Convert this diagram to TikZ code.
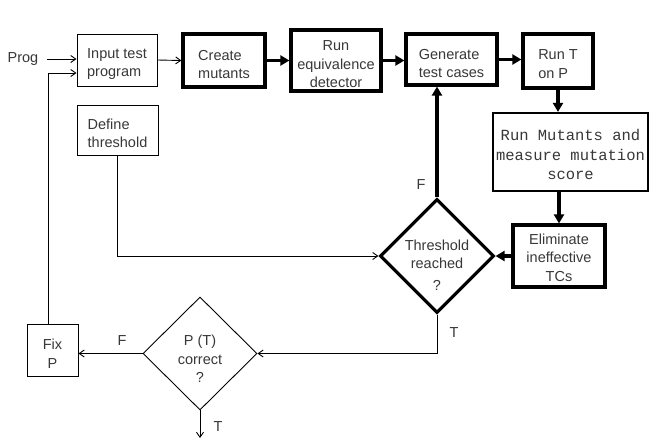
\documentclass[tikz,border=0pt]{standalone}
\usepackage{fontspec}
\setmainfont{Liberation Sans}
\newfontfamily\monofont{Liberation Mono}
\usetikzlibrary{shapes.geometric,arrows.meta}
\definecolor{txt}{HTML}{383838}
\begin{document}
\begin{tikzpicture}[x=1pt,y=-1pt,
  every node/.style={font=\fontsize{14.5}{18.5}\selectfont, text=txt},
  thinbox/.style={draw=black, line width=1pt, rectangle, inner sep=0pt},
  thickbox/.style={draw=black, line width=3.2pt, rectangle, inner sep=0pt},
  medbox/.style={draw=black, line width=2.2pt, rectangle, inner sep=0pt},
  thinarr/.style={draw=black, line width=0.9pt, -{Straight Barb[length=5pt,width=7pt]}},
  thickarr/.style={draw=black, line width=3.8pt, -{Triangle[length=9pt,width=10pt]}},
  lbl/.style={inner sep=0pt},
  btext/.style={inner sep=0pt}
]
\useasboundingbox[fill=white] (0,0) rectangle (671,445);

% boxes
\node[thinbox, minimum width=80pt, minimum height=52pt] (in) at (117,60) {};
\node[thickbox, minimum width=82pt, minimum height=53pt] (create) at (224,60.5) {};
\node[thickbox, minimum width=90pt, minimum height=61pt] (runeq) at (336,60.5) {};
\node[thickbox, minimum width=91pt, minimum height=51pt] (gen) at (451.5,59.5) {};
\node[thickbox, minimum width=70pt, minimum height=54pt] (runT) at (558,61) {};
\node[medbox, minimum width=155pt, minimum height=78pt] (runmut) at (570.5,152) {};
\node[thickbox, minimum width=92pt, minimum height=62pt] (elim) at (559,256) {};
\node[thinbox, minimum width=81pt, minimum height=50pt] (def) at (117.5,130) {};
\node[thinbox, minimum width=51pt, minimum height=52pt] (fix) at (52.5,350) {};

% box texts
\node[btext, align=left] (in-t) at ([yshift=-4pt]in.center) {Input test\\program};
\node[btext, align=left] (create-t) at ([yshift=-4pt]create.center) {Create\\mutants};
\node[btext, align=center] (runeq-t) at ([yshift=-4pt]runeq.center) {Run\\equivalence\\detector};
\node[btext, align=left] (gen-t) at ([yshift=-4pt]gen.center) {Generate\\test cases};
\node[btext, align=left] (runT-t) at ([yshift=-3pt]runT.center) {Run T\\on P};
\node[btext, align=center, font=\monofont\fontsize{15.5}{19.5}\selectfont] (runmut-t) at ([yshift=-2.5pt]runmut.center) {Run Mutants and\\measure mutation\\score};
\node[btext, align=center] (elim-t) at ([yshift=-1.5pt]elim.center) {Eliminate\\ineffective\\TCs};
\node[btext, align=left] (def-t) at ([yshift=-3.5pt]def.center) {Define\\threshold};
\node[btext, align=center] (fix-t) at ([yshift=-3.5pt]fix.center) {Fix\\P};

% diamonds
\node[diamond, draw=black, line width=3.2pt, minimum width=114pt, minimum height=114pt, inner sep=0pt] (thr) at (437,256) {};
\node[btext, align=center] (thr-t) at (437,265) {Threshold\\reached\\[3pt]?};
\node[diamond, draw=black, line width=0.9pt, minimum width=114pt, minimum height=113pt, inner sep=0pt] (pt) at (200,353.5) {};
\node[btext, align=center] (pt-t) at (200,359) {P (T)\\correct\\?};

% labels
\node[lbl] (prog) at (23,59) {Prog};
\node[lbl] (fthr) at (421,185) {F};
\node[lbl] (tthr) at (454,333) {T};
\node[lbl] (fpt) at (122,341) {F};
\node[lbl] (tpt) at (218,427) {T};
\coordinate (ptend) at (200,438);

% thin connectors
\draw[thinarr] ([xshift=8pt]prog.east) -- (prog.east -| in.west);
\draw[thinarr] ([xshift=-4.5pt]fix.north) |- ([yshift=-13pt]in.west);
\draw[thinarr] (in.east) -- (create.west);
\draw[thinarr] (def.south) |- (thr.west);
\draw[thinarr] (thr.south) |- (pt.east);
\draw[thinarr] (pt.west) -- (pt.west -| fix.east);
\draw[thinarr] (pt.south) -- (ptend);

% thick connectors
\draw[thickarr] (create.east) -- (runeq.west);
\draw[thickarr] (runeq.east) -- (runeq.east -| gen.west);
\draw[thickarr] (gen.east) -- (gen.east -| runT.west);
\draw[thickarr] (runT.south) -- (runT.south |- runmut.north);
\draw[thickarr] (elim.north |- runmut.south) -- (elim.north);
\draw[thickarr] (elim.west) -- (thr.east);
\draw[thickarr] (thr.north) -- (thr.north |- gen.south);
\end{tikzpicture}
\end{document}
